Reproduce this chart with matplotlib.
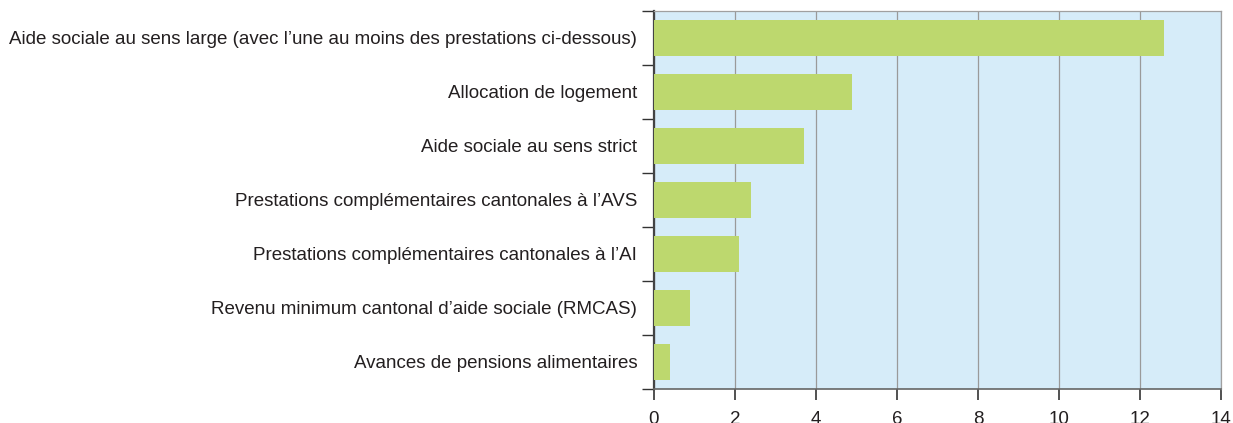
import numpy as np
import matplotlib.pyplot as plt
from matplotlib.ticker import FixedLocator

plt.rcParams['font.family'] = ['Liberation Sans', 'DejaVu Sans']

categories = [
    "Aide sociale au sens large (avec l\u2019une au moins des prestations ci-dessous)",
    "Allocation de logement",
    "Aide sociale au sens strict",
    "Prestations compl\u00e9mentaires cantonales \u00e0 l\u2019AVS",
    "Prestations compl\u00e9mentaires cantonales \u00e0 l\u2019AI",
    "Revenu minimum cantonal d\u2019aide sociale (RMCAS)",
    "Avances de pensions alimentaires",
]
values = [12.6, 4.9, 3.7, 2.4, 2.1, 0.9, 0.4]
x_ticks = [0, 2, 4, 6, 8, 10, 12, 14]

fig = plt.figure(figsize=(12.33, 4.23), dpi=100)
ax = fig.add_axes([0.5304, 0.0804, 0.4599, 0.8936])

y = np.arange(len(categories))
ax.barh(y, values, height=0.66, color='#bdd86e', zorder=3)

ax.set_facecolor('#d6ecf9')
ax.set_xlim(0, 14)
ax.set_ylim(len(categories) - 0.5, -0.5)
ax.set_xticks(x_ticks)
ax.xaxis.grid(True, color='#9a9a9a', linewidth=0.9, zorder=1)

ax.set_yticks(y)
ax.set_yticklabels(categories, fontsize=13.5, color='#231f20')
ax.tick_params(axis='y', which='major', length=0, pad=12)
ax.yaxis.set_minor_locator(FixedLocator(np.arange(-0.5, len(categories), 1)))
ax.tick_params(axis='y', which='minor', length=8.6, width=1, color='#333333')
ax.tick_params(axis='x', length=8, width=1.2, color='#333333', labelsize=13.5, labelcolor='#231f20', pad=8)

for side in ['top', 'right']:
    ax.spines[side].set_color('#a0a0a0')
    ax.spines[side].set_linewidth(0.9)
ax.spines['left'].set_color('#444444')
ax.spines['left'].set_linewidth(1.6)
ax.spines['bottom'].set_color('#666666')
ax.spines['bottom'].set_linewidth(1.2)

fig.savefig('out.png', dpi=100)
